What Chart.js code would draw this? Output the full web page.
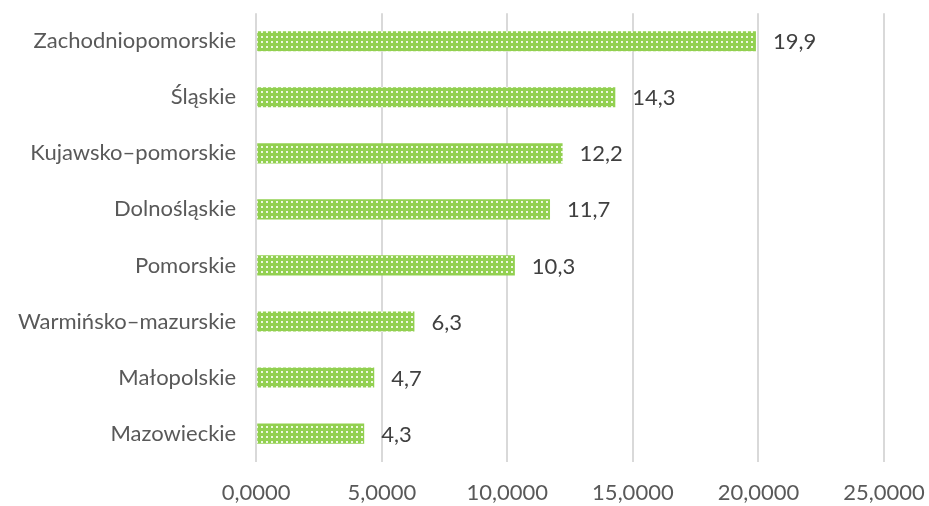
<!DOCTYPE html>
<html>
<head>
<meta charset="utf-8">
<script src="https://cdn.jsdelivr.net/npm/chart.js@4/dist/chart.umd.min.js"></script>
<style>
  html, body { margin: 0; padding: 0; background: #fff; }
  #wrap { width: 929px; height: 506px; }
</style>
</head>
<body>
<div id="wrap"><canvas id="chart"></canvas></div>
<script>
const regions = ['Zachodniopomorskie', 'Śląskie', 'Kujawsko–pomorskie', 'Dolnośląskie',
                 'Pomorskie', 'Warmińsko–mazurskie', 'Małopolskie', 'Mazowieckie']
const values = [19.9, 14.3, 12.2, 11.7, 10.3, 6.3, 4.7, 4.3]
const axisMin = 0
const axisMax = 25
const axisStep = 5

const fontFamily = 'Lato, "Open Sans", sans-serif'

// green dotted fill like the office pattern
function makePattern() {
  const c = document.createElement('canvas')
  c.width = 5; c.height = 5
  const g = c.getContext('2d')
  g.fillStyle = '#92d050'
  g.fillRect(0, 0, 5, 5)
  g.fillStyle = '#eef8e2'
  g.fillRect(1, 1, 2, 2)
  return g.createPattern(c, 'repeat')
}

const comma = (v, d) => v.toFixed(d).replace('.', ',')

const labelPlugin = {
  id: 'valueLabels',
  afterDatasetsDraw(chart) {
    const ctx = chart.ctx
    const meta = chart.getDatasetMeta(0)
    ctx.save()
    ctx.font = '22px ' + fontFamily
    ctx.fillStyle = '#404040'
    ctx.textAlign = 'left'
    ctx.textBaseline = 'middle'
    meta.data.forEach((bar, i) => {
      ctx.fillText(comma(values[i], 1), bar.x + 17, bar.y + 1)
    })
    ctx.restore()
  }
}

new Chart(document.getElementById('chart'), {
  type: 'bar',
  data: {
    labels: regions,
    datasets: [{
      data: values,
      backgroundColor: makePattern(),
      borderWidth: 0,
      barPercentage: 0.36,
      categoryPercentage: 1
    }]
  },
  options: {
    indexAxis: 'y',
    responsive: true,
    maintainAspectRatio: false,
    animation: false,
    layout: { padding: { top: 0, right: 0, bottom: 0, left: 18 } },
    plugins: { legend: { display: false }, tooltip: { enabled: false } },
    scales: {
      x: {
        min: axisMin,
        max: axisMax,
        afterFit: s => { s.paddingRight = 45 },
        ticks: {
          stepSize: axisStep,
          maxRotation: 0,
          color: '#595959',
          font: { family: fontFamily, size: 22 },
          padding: 0,
          callback: v => comma(v, 4)
        },
        // tick length stands in for label gap, marks kept invisible
        grid: { color: '#d9d9d9', lineWidth: 2, drawTicks: true, tickLength: 18, tickColor: 'rgba(0,0,0,0)' },
        border: { display: false }
      },
      y: {
        ticks: {
          color: '#595959',
          font: { family: fontFamily, size: 22 },
          padding: 0
        },
        grid: { display: false, drawTicks: true, tickLength: 20 },
        border: { display: false }
      }
    }
  },
  plugins: [labelPlugin]
})
</script>
</body>
</html>
